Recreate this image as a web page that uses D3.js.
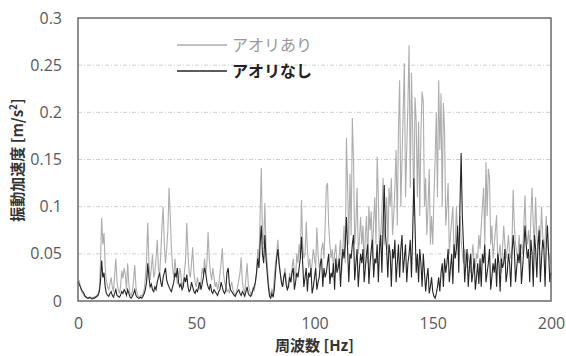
<!DOCTYPE html>
<html>
<head>
<meta charset="utf-8">
<script src="https://cdn.jsdelivr.net/npm/d3@7"></script>
<style>
  body { margin: 0; background: #fff; }
  svg { display: block; }
</style>
</head>
<body>
<div id="chart"></div>
<script>
// frequency step of the spectrum (Hz), values below are in 1/1000 m/s2
var step = 0.5;

// アオリあり (gray), 0 .. 200 Hz, one row = 10 Hz
var withFlap = [
  18,22,15,10,8,6,5,4,3,4,3,3,4,3,5,4,6,8,12,40,
  88,60,72,35,22,15,12,18,25,15,10,28,45,20,12,8,15,32,24,35,
  28,12,40,18,8,6,10,22,38,15,8,5,4,6,5,8,12,25,45,83,
  40,22,35,49,25,30,45,65,35,28,50,80,100,60,40,55,75,120,90,55,
  35,25,45,30,18,22,35,28,15,20,30,45,83,50,30,25,40,57,30,20,
  15,25,18,12,20,35,28,45,30,40,73,45,30,22,35,25,15,20,12,18,
  28,40,56,30,20,15,10,12,8,15,20,12,8,6,10,15,22,30,46,20,
  12,8,25,40,18,12,8,6,15,10,20,30,55,40,90,141,70,60,104,55,
  40,20,10,6,12,8,25,40,50,65,45,30,20,15,25,35,22,12,18,30,
  20,35,45,30,25,50,40,60,45,107,60,45,50,84,55,35,45,30,40,55,
  45,35,78,50,35,40,55,62,45,80,121,125,80,60,45,55,35,50,60,40,
  35,50,65,30,55,80,40,173,120,60,135,70,194,150,60,80,120,50,65,89,
  60,80,35,70,90,40,100,75,95,45,85,110,60,153,110,50,70,95,130,60,
  80,110,55,120,100,130,70,90,120,160,80,180,234,100,150,200,252,110,160,210,
  271,120,242,180,90,216,190,110,190,90,180,222,211,100,130,70,100,140,60,90,
  60,110,150,200,110,234,160,220,100,210,180,80,100,125,50,70,85,100,45,60,
  100,70,60,90,65,50,40,55,45,35,50,40,30,45,60,40,35,50,45,70,
  55,80,100,120,60,147,90,140,130,60,80,45,60,75,91,40,50,60,30,55,
  80,60,45,55,70,50,45,60,118,80,60,50,45,70,55,60,50,80,112,70,
  60,75,55,90,120,80,60,110,70,55,80,60,100,70,55,65,90,60,50,45,40
];

// アオリなし (black)
var withoutFlap = [
  20,18,15,12,10,8,5,4,3,3,4,3,2,3,3,4,5,6,10,20,
  43,25,30,15,8,6,5,8,10,6,4,8,12,6,5,4,6,10,8,12,
  10,6,12,8,4,3,5,8,12,6,4,3,3,4,3,5,8,12,20,40,
  25,15,18,12,10,15,12,20,25,30,20,15,25,30,35,22,18,15,12,10,
  15,20,30,25,35,20,15,18,12,15,25,20,28,15,10,12,20,15,10,8,
  12,10,15,20,12,18,25,35,30,20,15,12,18,10,8,12,10,8,6,10,
  12,20,15,10,8,12,30,35,18,12,10,8,6,5,8,10,12,8,6,10,
  8,5,10,15,8,6,5,8,12,15,20,30,45,35,60,80,50,40,70,45,
  30,15,5,3,8,4,12,30,45,55,40,30,20,15,25,30,18,12,15,25,
  20,30,35,12,20,30,25,35,45,68,40,15,25,35,10,30,25,35,8,15,
  25,35,12,20,25,40,45,15,35,25,30,40,50,18,30,25,40,12,45,30,
  35,45,15,40,55,45,60,89,55,20,50,45,60,70,22,40,55,15,35,50,
  40,55,20,35,50,60,18,40,55,65,25,45,40,60,20,55,70,30,80,123,
  70,55,25,60,50,15,55,45,65,20,40,60,25,55,70,30,45,60,20,40,
  50,65,25,70,130,80,30,50,20,55,40,15,50,30,10,25,35,8,15,25,
  10,5,3,8,15,25,10,30,40,15,45,30,40,55,20,35,50,18,60,45,
  55,80,30,100,157,90,60,20,40,55,15,35,50,20,30,45,12,25,40,18,
  45,15,50,40,60,20,30,40,55,12,25,40,30,45,15,50,40,10,45,35,
  40,55,20,30,50,40,15,50,70,55,20,35,50,40,60,18,35,55,80,60,
  45,55,20,65,50,15,70,55,25,60,75,20,45,65,55,15,60,80,50,20,30
];

var xTicks = [0, 50, 100, 150, 200];
var yTicks = [0, 0.05, 0.1, 0.15, 0.2, 0.25, 0.3];
var seriesNames = ["アオリあり", "アオリなし"];

var W = 566, H = 356;
var plotLeft = 78, plotRight = 551, plotTop = 18, plotBottom = 301;
var numFont = "'Open Sans', 'DejaVu Sans', sans-serif";
var jpFont = "'Noto Sans CJK JP', 'Noto Sans', sans-serif";

var x = d3.scaleLinear().domain([0, 200]).range([plotLeft, plotRight]);
var y = d3.scaleLinear().domain([0, 0.3]).range([plotBottom, plotTop]);

var svg = d3.select("#chart").append("svg").attr("width", W).attr("height", H);

// dashed grid
svg.append("g").selectAll("line").data(yTicks.slice(1, -1)).enter().append("line")
  .attr("x1", plotLeft).attr("x2", plotRight)
  .attr("y1", function (d) { return y(d); }).attr("y2", function (d) { return y(d); })
  .attr("stroke", "#cfcfcf").attr("stroke-width", 1).attr("stroke-dasharray", "4,2,1,2");

function toPoints(arr) {
  return arr.map(function (v, i) { return { f: i * step, v: v / 1000 }; });
}

var line = d3.line().x(function (d) { return x(d.f); }).y(function (d) { return y(d.v); });

svg.append("path").datum(toPoints(withFlap))
  .attr("fill", "none").attr("stroke", "#adadad").attr("stroke-width", 1.1).attr("d", line);
svg.append("path").datum(toPoints(withoutFlap))
  .attr("fill", "none").attr("stroke", "#262626").attr("stroke-width", 1.1).attr("d", line);

// frame
svg.append("rect").attr("x", plotLeft).attr("y", plotTop)
  .attr("width", plotRight - plotLeft).attr("height", plotBottom - plotTop)
  .attr("fill", "none").attr("stroke", "#6a6a6a").attr("stroke-width", 1.5);

// axes (labels only, no tick marks)
var yAxis = d3.axisLeft(y).tickValues(yTicks).tickSize(0).tickPadding(16)
  .tickFormat(function (d) { return d === 0 ? "0" : String(+d.toFixed(2)); });
var yg = svg.append("g").attr("transform", "translate(" + plotLeft + ",0)").call(yAxis);
yg.select(".domain").remove();
yg.selectAll("text").attr("fill", "#595959").style("font-family", numFont).style("font-size", "16px");

var xAxis = d3.axisBottom(x).tickValues(xTicks).tickSize(0).tickPadding(17).tickFormat(d3.format("d"));
var xg = svg.append("g").attr("transform", "translate(0," + plotBottom + ")").call(xAxis);
xg.select(".domain").remove();
xg.selectAll("text").attr("fill", "#595959").style("font-family", numFont).style("font-size", "16px");

// axis titles
svg.append("text").attr("x", (plotLeft + plotRight) / 2).attr("y", 351).attr("text-anchor", "middle")
  .style("font-family", jpFont).style("font-size", "15px").style("font-weight", "bold").attr("fill", "#333")
  .text("周波数 [Hz]");

var yt = svg.append("text").attr("transform", "translate(23,160) rotate(-90)").attr("text-anchor", "middle")
  .style("font-family", jpFont).style("font-size", "15px").style("font-weight", "bold").attr("fill", "#333");
yt.append("tspan").text("振動加速度 [m/s");
yt.append("tspan").attr("dy", -6).style("font-size", "10px").text("2");
yt.append("tspan").attr("dy", 6).text("]");

// legend
var legend = svg.selectAll(".legend").data(seriesNames).enter().append("g").attr("class", "legend")
  .attr("transform", function (d, i) { return "translate(0," + (45 + i * 26) + ")"; });
legend.append("line").attr("x1", 177).attr("x2", 227).attr("y1", 0).attr("y2", 0)
  .attr("stroke", function (d, i) { return i === 0 ? "#adadad" : "#262626"; }).attr("stroke-width", 1.5);
legend.append("text").attr("x", 232).attr("y", 6)
  .style("font-family", jpFont).style("font-size", "16px")
  .style("font-weight", function (d, i) { return i === 0 ? "normal" : "bold"; })
  .attr("fill", function (d, i) { return i === 0 ? "#999" : "#222"; })
  .text(function (d) { return d; });
</script>
</body>
</html>
